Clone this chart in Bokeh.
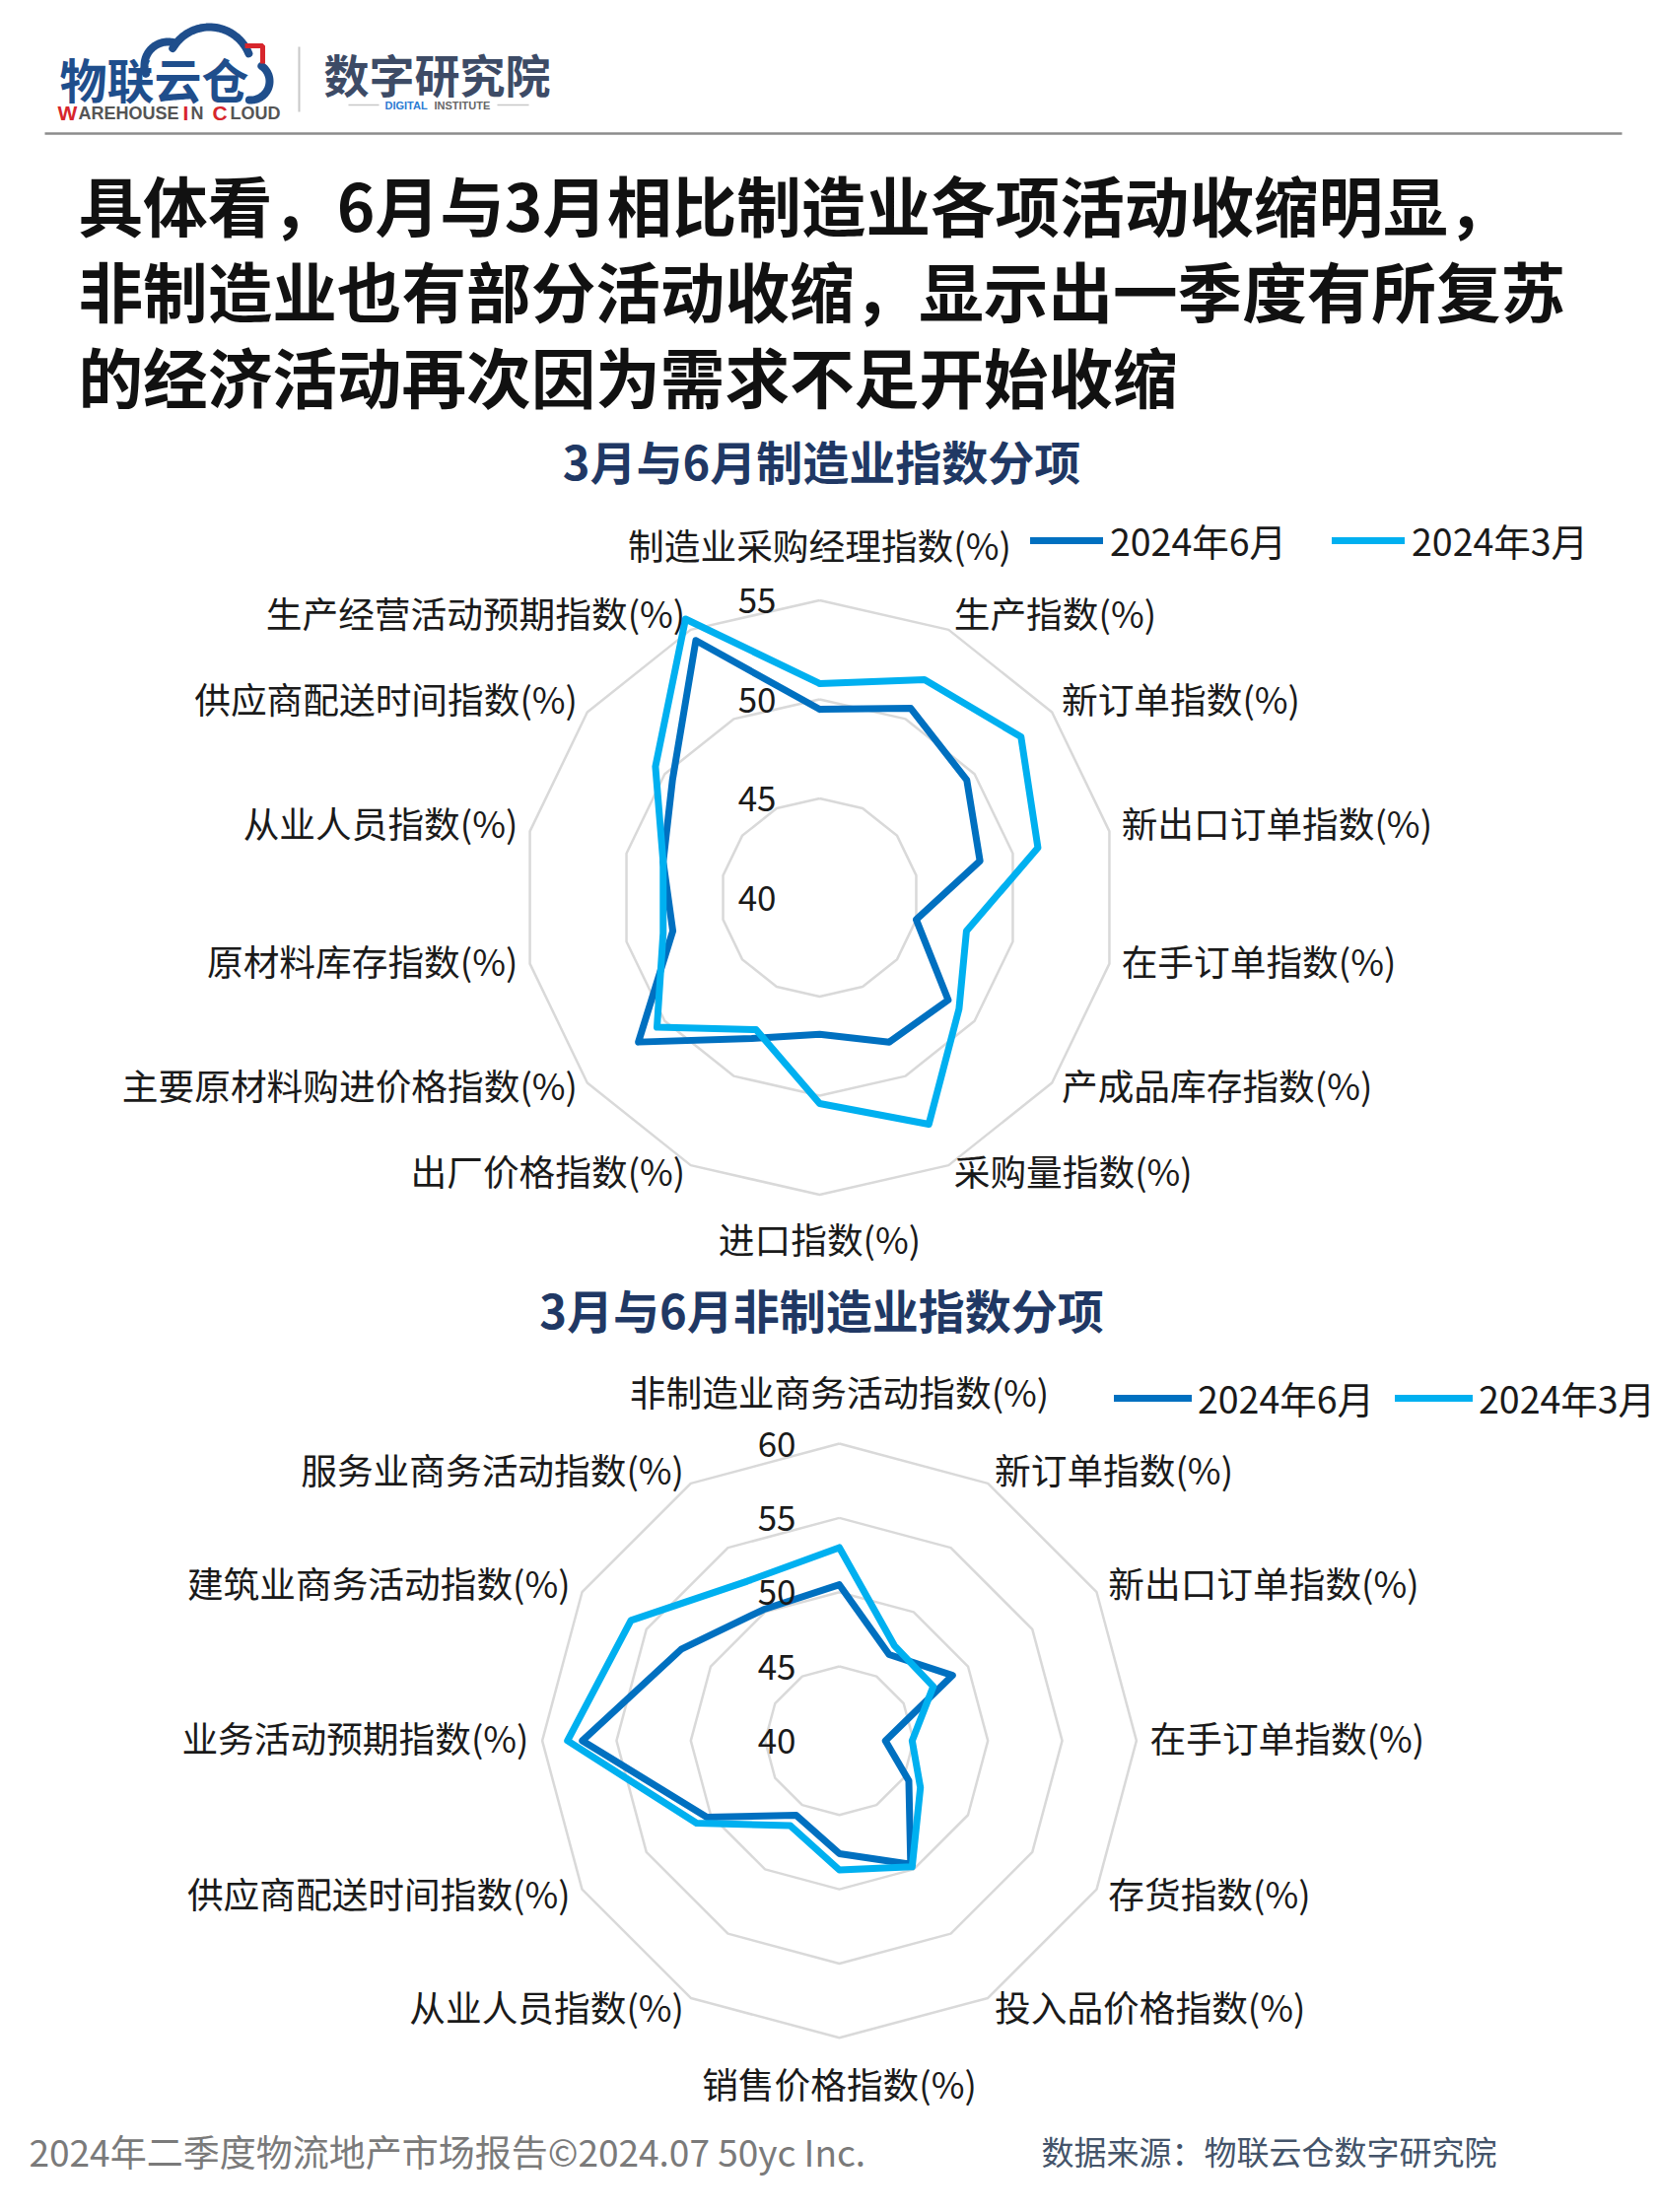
import numpy as np
from bokeh.plotting import figure
from bokeh.models import Range1d, Legend, LegendItem
from bokeh.core.properties import value
from bokeh.embed import file_html
from bokeh.resources import INLINE

FONT = "Noto Sans CJK SC"

# ---------------- data ----------------
mfg_categories = ["制造业采购经理指数(%)", "生产指数(%)", "新订单指数(%)", "新出口订单指数(%)",
                  "在手订单指数(%)", "产成品库存指数(%)", "采购量指数(%)", "进口指数(%)",
                  "出厂价格指数(%)", "主要原材料购进价格指数(%)", "原材料库存指数(%)",
                  "从业人员指数(%)", "供应商配送时间指数(%)", "生产经营活动预期指数(%)"]
mfg_jun = [49.5, 50.6, 49.5, 48.3, 45.0, 48.3, 48.1, 46.9, 47.9, 51.7, 47.6, 48.1, 49.5, 54.4]
mfg_mar = [50.8, 52.2, 53.0, 51.3, 47.6, 49.0, 52.7, 50.4, 47.4, 50.5, 48.1, 48.1, 50.6, 55.6]
mfg_ticks = [40, 45, 50, 55]

non_categories = ["非制造业商务活动指数(%)", "新订单指数(%)", "新出口订单指数(%)", "在手订单指数(%)",
                  "存货指数(%)", "投入品价格指数(%)", "销售价格指数(%)", "从业人员指数(%)",
                  "供应商配送时间指数(%)", "业务活动预期指数(%)", "建筑业商务活动指数(%)",
                  "服务业商务活动指数(%)"]
non_jun = [50.5, 46.7, 48.8, 43.1, 45.4, 49.6, 47.6, 45.8, 50.3, 57.3, 52.3, 50.2]
non_mar = [53.0, 47.4, 47.3, 44.9, 46.3, 49.8, 48.7, 46.6, 51.1, 58.3, 56.2, 52.4]
non_ticks = [40, 45, 50, 55, 60]

series_names = ["2024年6月", "2024年3月"]
series_colors = ["#0070C0", "#00B0F0"]

main_title = ["具体看，6月与3月相比制造业各项活动收缩明显，",
              "非制造业也有部分活动收缩，显示出一季度有所复苏",
              "的经济活动再次因为需求不足开始收缩"]
chart_titles = ["3月与6月制造业指数分项", "3月与6月非制造业指数分项"]
footer_left = "2024年二季度物流地产市场报告©2024.07 50yc Inc."
footer_right = "数据来源：物联云仓数字研究院"

# ---------------- page ----------------
W, H = 1680, 2240
X0, Y0 = 0, 0
p = figure(width=W, height=H, x_range=Range1d(X0, X0 + W), y_range=Range1d(Y0 + H, Y0),
           output_backend="svg", toolbar_location=None, min_border=0,
           x_axis_location=None, y_axis_location=None, outline_line_color=None,
           background_fill_color="white", border_fill_color="white")
for g in p.grid:
    g.visible = False


def txt(x, y, s, size, color="#1a1a1a", align="left", baseline="middle", bold=False, font=FONT):
    p.text(x=[x], y=[y], text=[s], text_font=value(font), text_font_size=f"{size}px",
           text_color=color, text_align=align, text_baseline=baseline,
           text_font_style="bold" if bold else "normal")


# ---------------- header / logo ----------------
def arc_pts(cx, cy, r, a0, a1, n=40):
    a = np.radians(np.linspace(a0, a1, n))
    return list(cx + r * np.cos(a)), list(cy - r * np.sin(a))

blue_logo = "#1f4e8c"
for (cx, cy, r, a0, a1) in [(170, 66, 24, 200, 75), (212, 70, 43, 150, 22), (254, 82, 19, 55, -95)]:
    xs, ys = arc_pts(cx, cy, r, a0, a1)
    p.line(xs, ys, line_color=blue_logo, line_width=8, line_cap="round")
p.line([248, 266, 266], [46, 46, 64], line_color="#d7262c", line_width=5)
txt(60, 78, "物联云仓", 48, color=blue_logo, bold=True)
for (x, s, c, fs) in [(58, "W", "#d7262c", 21), (79, "AREHOUSE", "#555555", 18), (185, "I", "#d7262c", 21),
                      (193, "N", "#555555", 18), (215, "C", "#d7262c", 21), (233, "LOUD", "#555555", 18)]:
    txt(x, 114, s, fs, color=c, baseline="alphabetic", bold=True, font="Liberation Sans")
p.line([303, 303], [47, 113], line_color="#c8c8c8", line_width=2)
txt(328, 73, "数字研究院", 46, color="#3d4b66", bold=True)
txt(390, 106, "DIGITAL", 11, color="#2b7bd3", bold=True, font="Liberation Sans")
txt(440, 106, "INSTITUTE", 11, color="#666666", bold=True, font="Liberation Sans")
p.line([353, 384], [106, 106], line_color="#c8c8c8", line_width=1.5)
p.line([504, 536], [106, 106], line_color="#c8c8c8", line_width=1.5)
p.line([45, 1645], [135, 135], line_color="#8c8c8c", line_width=2.5)

for i, line in enumerate(main_title):
    txt(79, 206 + i * 87, line, 65.6, color="#111111", bold=True)

txt(833, 466, chart_titles[0], 47, color="#203864", align="center", bold=True)
txt(833, 1327, chart_titles[1], 47, color="#203864", align="center", bold=True)

txt(29, 2181, footer_left, 37, color="#7a7a7a")
txt(1056, 2181, footer_right, 33, color="#44546a")


# ---------------- radar ----------------
def add_radar(name, cx, cy, s, cats, series, ticks, lab_r, lab_tb, lab_shift,
              leg_x, leg_y, glyph_w, standoff, spacing):
    xr, yr = name + "x", name + "y"
    p.extra_x_ranges = {**p.extra_x_ranges, xr: Range1d((X0 - cx) / s, (X0 + W - cx) / s)}
    p.extra_y_ranges = {**p.extra_y_ranges, yr: Range1d((cy - (Y0 + H)) / s, (cy - Y0) / s)}
    n = len(cats)
    base = ticks[0]
    ang = np.arange(n) * 2 * np.pi / n
    sn, cs = np.sin(ang), np.cos(ang)
    # rings
    for t in ticks[1:]:
        r = t - base
        xs = list(r * sn) + [r * sn[0]]
        ys = list(r * cs) + [r * cs[0]]
        p.line(xs, ys, x_range_name=xr, y_range_name=yr, line_color="#d9d9d9", line_width=2.5)
    # series
    rends = []
    for (nm, vals), col in zip(series, series_colors):
        r = np.array(vals) - base
        xs = list(r * sn) + [r[0] * sn[0]]
        ys = list(r * cs) + [r[0] * cs[0]]
        rr = p.line(xs, ys, x_range_name=xr, y_range_name=yr, line_color=col, line_width=7,
                    line_join="round", line_cap="round")
        rends.append((nm, rr))
    # category labels
    groups = {"left": ([], [], []), "right": ([], [], []), "center": ([], [], [])}
    for i, c in enumerate(cats):
        if abs(sn[i]) < 0.01:
            key, R = "center", lab_tb / s
        else:
            key, R = ("left" if sn[i] > 0 else "right"), lab_r / s
        groups[key][0].append(R * sn[i])
        groups[key][1].append(R * cs[i] + lab_shift / s)
        groups[key][2].append(c)
    for key, (xs, ys, tx) in groups.items():
        if tx:
            p.text(x=xs, y=ys, text=tx, x_range_name=xr, y_range_name=yr,
                   text_font=value(FONT), text_font_size="36.7px", text_color="#1a1a1a",
                   text_align=key, text_baseline="middle")
    # tick labels
    p.text(x=[0] * len(ticks), y=[t - base for t in ticks], text=[str(t) for t in ticks],
           x_range_name=xr, y_range_name=yr, x_offset=-44,
           text_font=value(FONT), text_font_size="35px", text_color="#1a1a1a",
           text_align="right", text_baseline="middle")
    # legend
    leg = Legend(items=[LegendItem(label=nm, renderers=[rr]) for nm, rr in rends],
                 orientation="horizontal", location=(leg_x - X0, (Y0 + H) - (leg_y + 20)),
                 padding=0, margin=0, border_line_alpha=0, background_fill_alpha=0,
                 glyph_width=glyph_w, glyph_height=40, label_height=40, label_standoff=standoff,
                 spacing=spacing, label_text_font=FONT, label_text_font_size="37.5px",
                 label_text_color="#1a1a1a", label_text_baseline="middle")
    p.add_layout(leg)


add_radar("r1", 831, 910, 20.1, mfg_categories,
          [(series_names[0], mfg_jun), (series_names[1], mfg_mar)], mfg_ticks,
          314, 352, 6.5, 1045, 555, 74, 7, 46)
add_radar("r2", 851, 1765.4, 15.07, non_categories,
          [(series_names[0], non_jun), (series_names[1], non_mar)], non_ticks,
          315, 351, 3.5, 1130, 1425, 79, 6, 21)

open("out.html", "w").write(file_html(p, INLINE))
